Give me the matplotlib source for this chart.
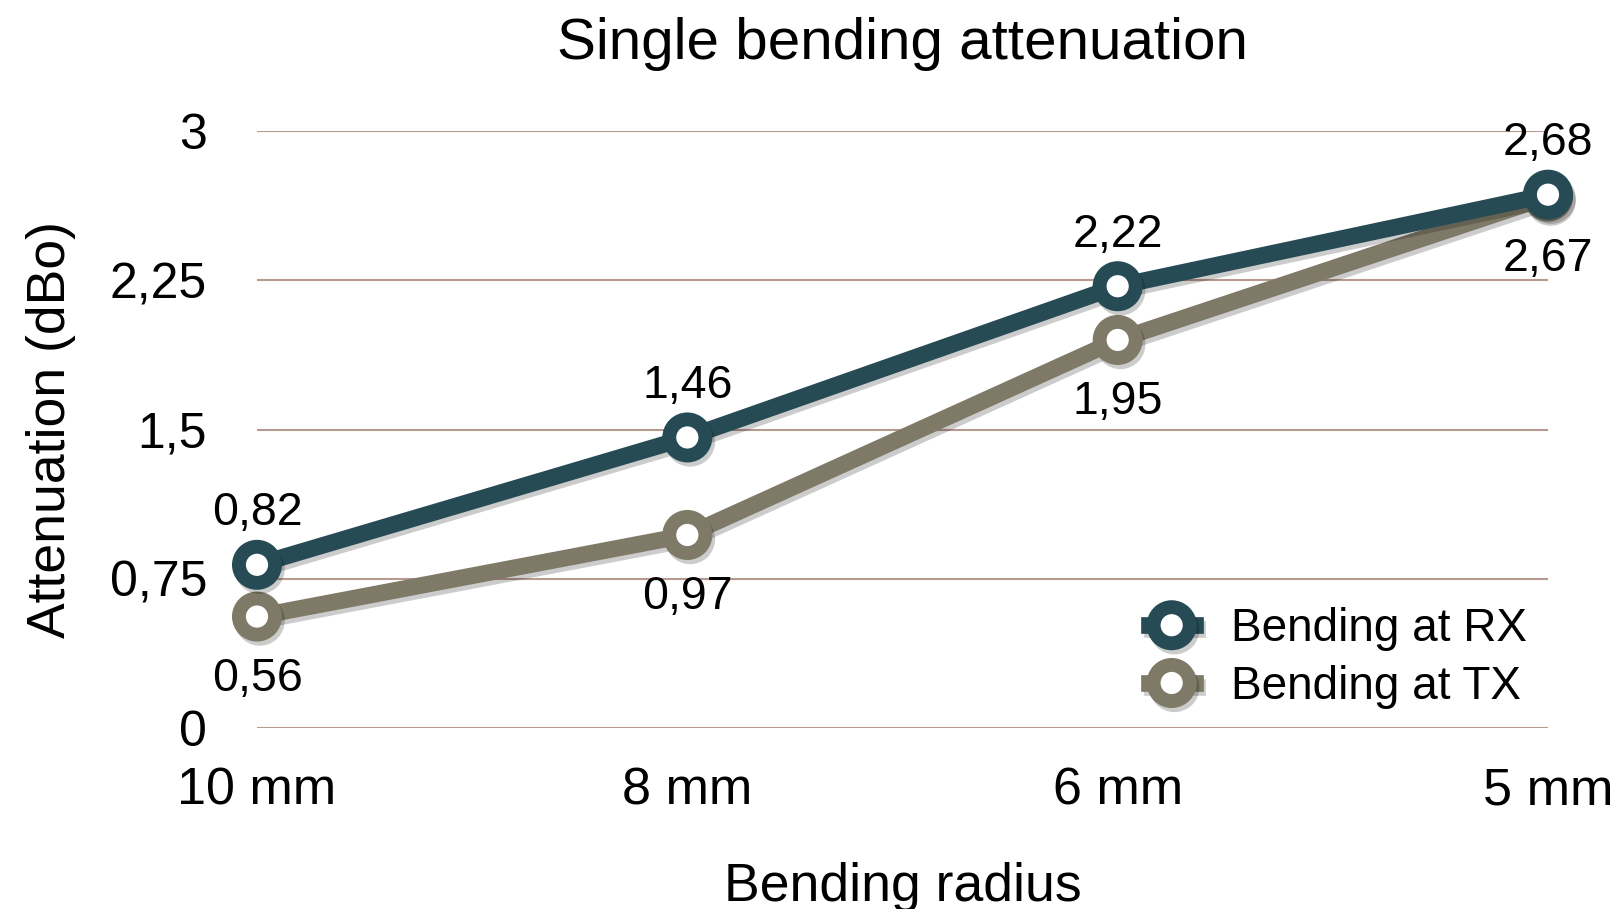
import numpy as np
import matplotlib
matplotlib.use('Agg')
import matplotlib.pyplot as plt
import matplotlib.patheffects as pe

# data
radii = ['10 mm', '8 mm', '6 mm', '5 mm']
att_rx = [0.82, 1.46, 2.22, 2.68]
att_tx = [0.56, 0.97, 1.95, 2.67]
yticks = [0, 0.75, 1.5, 2.25, 3]
ytick_labels = ['0', '0,75', '1,5', '2,25', '3']

col_rx = '#264b55'
col_tx = '#7f7a67'
col_grid = '#b89a90'

plt.rcParams['font.family'] = ['Liberation Sans', 'DejaVu Sans']

fig = plt.figure(figsize=(16.21, 9.09), dpi=100)
ax = fig.add_axes([257/1621, 1 - 728/909, 1291/1621, 597/909])

x = np.arange(len(radii))
shadow = [pe.SimpleLineShadow(offset=(2, -3), alpha=0.2, shadow_color='black'), pe.Normal()]

for vals, col, name in [(att_tx, col_tx, 'Bending at TX'), (att_rx, col_rx, 'Bending at RX')]:
    ax.plot(x, vals, color=col, lw=12, marker='o', ms=26, mew=10,
            mfc='white', mec=col, clip_on=False, zorder=3, label=name,
            path_effects=shadow)

# value labels
for i, v in enumerate(att_rx):
    ax.annotate(f'{v:.2f}'.replace('.', ','), (x[i], v), xytext=(0, 37),
                textcoords='offset points', ha='center', va='center', fontsize=33.5)
for i, v in enumerate(att_tx):
    ax.annotate(f'{v:.2f}'.replace('.', ','), (x[i], v), xytext=(0, -45),
                textcoords='offset points', ha='center', va='center', fontsize=33.5)

ax.set_xlim(0, 3)
ax.set_ylim(0, 3)
ax.set_yticks(yticks)
ax.set_yticklabels(ytick_labels, fontsize=36)
ax.set_xticks(x)
ax.set_xticklabels(radii, fontsize=37.5)
ax.tick_params(axis='y', length=0, pad=36)
ax.tick_params(axis='x', length=0, pad=28)
for s in ax.spines.values():
    s.set_visible(False)
ax.grid(axis='y', color=col_grid, lw=1.5)
ax.set_axisbelow(True)

ax.set_title('Single bending attenuation', fontsize=42, pad=52)
ax.set_xlabel('Bending radius', fontsize=38.5, labelpad=33)
ax.set_ylabel('Attenuation (dBo)', fontsize=38.5, labelpad=24)

h, l = ax.get_legend_handles_labels()
ax.legend(h[::-1], l[::-1], loc='center left', bbox_to_anchor=(0.673, 0.117),
          frameon=False, fontsize=33, handlelength=1.0, handletextpad=0.8,
          labelspacing=0.3, borderpad=0)

fig.savefig('out.png', dpi=100)
